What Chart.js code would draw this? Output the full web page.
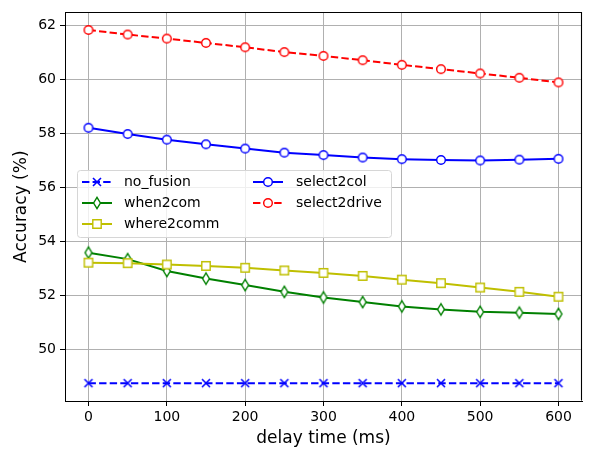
<!DOCTYPE html>
<html>
<head>
<meta charset="utf-8">
<script src="https://cdn.jsdelivr.net/npm/chart.js@4"></script>
<style>
  html, body { margin: 0; padding: 0; background: #fff; }
  #wrap { width: 592px; height: 449px; }
</style>
</head>
<body>
<div id="wrap"><canvas id="accChart" width="592" height="449"></canvas></div>
<script>
// delay values (ms)
const delays = [0, 50, 100, 150, 200, 250, 300, 350, 400, 450, 500, 550, 600];
const xTicks = [0, 100, 200, 300, 400, 500, 600];
const yTicks = [50, 52, 54, 56, 58, 60, 62];

const noFusion = [48.76, 48.76, 48.76, 48.76, 48.76, 48.76, 48.76, 48.76, 48.76, 48.76, 48.76, 48.76, 48.76];
const when2com = [53.59, 53.35, 52.91, 52.63, 52.39, 52.14, 51.93, 51.76, 51.60, 51.49, 51.40, 51.37, 51.32];
const where2comm = [53.22, 53.20, 53.15, 53.10, 53.03, 52.93, 52.84, 52.73, 52.59, 52.46, 52.30, 52.14, 51.96];
const select2col = [58.21, 57.98, 57.77, 57.60, 57.44, 57.29, 57.20, 57.11, 57.05, 57.02, 57.00, 57.03, 57.06];
const select2drive = [61.83, 61.66, 61.51, 61.35, 61.19, 61.01, 60.87, 60.71, 60.54, 60.38, 60.22, 60.06, 59.89];

const FONT = "'DejaVu Sans', sans-serif";

// marker images, like matplotlib markers
function makeMarker(kind, color) {
  const c = document.createElement("canvas");
  c.width = 16; c.height = 16;
  const g = c.getContext("2d");
  g.strokeStyle = color;
  g.fillStyle = "#fff";
  g.lineWidth = 1.4;
  if (kind === "o") {
    g.beginPath(); g.arc(8, 8, 4.3, 0, Math.PI * 2); g.fill(); g.stroke();
  } else if (kind === "d") {
    g.beginPath(); g.moveTo(8, 2.3); g.lineTo(11.4, 8); g.lineTo(8, 13.7); g.lineTo(4.6, 8); g.closePath(); g.fill(); g.stroke();
  } else if (kind === "s") {
    g.beginPath(); g.rect(3.8, 3.8, 8.4, 8.4); g.fill(); g.stroke();
  } else if (kind === "x") {
    g.lineWidth = 1.6;
    g.beginPath(); g.moveTo(4, 4); g.lineTo(12, 12); g.moveTo(12, 4); g.lineTo(4, 12); g.stroke();
  }
  return c;
}

const series = [
  { label: "no_fusion", data: noFusion, color: "#0000ff", marker: "x", dash: [7.4, 3.2], order: 5 },
  { label: "when2com", data: when2com, color: "#008000", marker: "d", dash: [], order: 4 },
  { label: "where2comm", data: where2comm, color: "#bfbf00", marker: "s", dash: [], order: 3 },
  { label: "select2col", data: select2col, color: "#0000ff", marker: "o", dash: [], order: 2 },
  { label: "select2drive", data: select2drive, color: "#ff0000", marker: "o", dash: [7.4, 3.2], order: 1 }
];

const datasets = series.map((s) => {
  const img = makeMarker(s.marker, s.color);
  return {
    label: s.label,
    data: delays.map((d, i) => ({ x: d, y: s.data[i] })),
    borderColor: s.color,
    backgroundColor: s.color,
    borderWidth: 2,
    borderDash: s.dash,
    pointStyle: img,
    pointRadius: 5,
    pointHoverRadius: 5,
    tension: 0,
    order: s.order,
    markerImg: img
  };
});

// full box around the axes
const frame = {
  id: "frame",
  afterDraw(chart) {
    const a = chart.chartArea;
    const ctx = chart.ctx;
    const l = Math.round(a.left) + 0.5, r = Math.round(a.right) - 0.5;
    const t = Math.round(a.top) + 0.5, b = Math.round(a.bottom) - 0.5;
    ctx.save();
    ctx.setLineDash([]);
    ctx.strokeStyle = "#000";
    ctx.lineWidth = 1.1;
    ctx.beginPath();
    ctx.moveTo(l, t); ctx.lineTo(r, t); ctx.lineTo(r, b);
    ctx.stroke();
    ctx.restore();
  }
};

// legend drawn inside the axes, two columns like matplotlib
const innerLegend = {
  id: "innerLegend",
  afterDatasetsDraw(chart) {
    const ctx = chart.ctx;
    const ds = chart.data.datasets;
    const box = { x: 77.5, y: 170.5, w: 314, h: 67 };
    ctx.save();
    ctx.beginPath();
    ctx.roundRect(box.x, box.y, box.w, box.h, 3);
    ctx.fillStyle = "rgba(255,255,255,0.8)";
    ctx.fill();
    ctx.strokeStyle = "#d6d6d6";
    ctx.lineWidth = 1;
    ctx.stroke();
    const cols = [
      { items: [0, 1, 2], x0: 82, x1: 112, tx: 124 },
      { items: [3, 4], x0: 253, x1: 283, tx: 296 }
    ];
    const rows = [182, 203, 224];
    ctx.font = "14px " + FONT;
    ctx.textBaseline = "middle";
    cols.forEach((col) => {
      col.items.forEach((idx, r) => {
        const d = ds[idx];
        const y = rows[r];
        ctx.strokeStyle = d.borderColor;
        ctx.lineWidth = 2;
        ctx.setLineDash(d.borderDash.length ? d.borderDash : []);
        ctx.beginPath();
        ctx.moveTo(col.x0, y);
        ctx.lineTo(col.x1, y);
        ctx.stroke();
        ctx.setLineDash([]);
        const mx = (col.x0 + col.x1) / 2;
        ctx.drawImage(d.markerImg, mx - 8, y - 8);
        ctx.fillStyle = "#000";
        ctx.fillText(d.label, col.tx, y + 0.5);
      });
    });
    ctx.restore();
  }
};

new Chart("accChart", {
  type: "line",
  data: { datasets: datasets },
  plugins: [innerLegend, frame],
  options: {
    responsive: false,
    animation: false,
    events: [],
    layout: { padding: { top: 9, right: 10, left: 0, bottom: 0 } },
    plugins: { legend: { display: false }, tooltip: { enabled: false } },
    scales: {
      x: {
        type: "linear",
        min: -30,
        max: 630,
        afterBuildTicks: (axis) => { axis.ticks = xTicks.map((v) => ({ value: v })); },
        afterFit: (axis) => { axis.height = 48; },
        grid: { color: "#b0b0b0", lineWidth: 1, tickColor: "#000", tickLength: 5, drawOnChartArea: true },
        border: { color: "#000", width: 1 },
        ticks: { color: "#000", font: { family: FONT, size: 14 }, padding: 3, maxRotation: 0 },
        title: { display: true, text: "delay time (ms)", color: "#000", font: { family: FONT, size: 17 }, padding: { top: 6, bottom: 0 } }
      },
      y: {
        type: "linear",
        min: 48.1,
        max: 62.48,
        afterBuildTicks: (axis) => { axis.ticks = yTicks.map((v) => ({ value: v })); },
        afterFit: (axis) => { axis.width = 65; },
        grid: { color: "#b0b0b0", lineWidth: 1, tickColor: "#000", tickLength: 5 },
        border: { color: "#000", width: 1 },
        ticks: { color: "#000", font: { family: FONT, size: 14 }, padding: 4 },
        title: { display: true, text: "Accuracy (%)", color: "#000", font: { family: FONT, size: 17 }, padding: { top: 11, bottom: 0 } }
      }
    }
  }
});
</script>
</body>
</html>
